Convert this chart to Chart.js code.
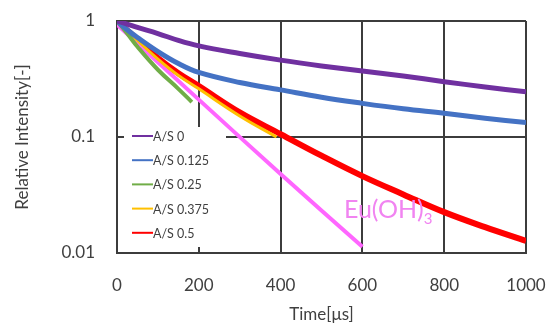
<!DOCTYPE html>
<html>
<head>
<meta charset="utf-8">
<script src="https://cdn.jsdelivr.net/npm/chart.js@4"></script>
<style>
  html, body { margin: 0; padding: 0; background: #fff; }
  #wrap { width: 558px; height: 329px; }
</style>
</head>
<body>
<div id="wrap"><canvas id="c" width="558" height="329"></canvas></div>
<script>
// time axis [us]
const tLong = [0, 25, 50, 100, 150, 200, 300, 400, 500, 600, 700, 800, 900, 1000]
const asZero = [1, 0.94, 0.88, 0.78, 0.68, 0.61, 0.525, 0.46, 0.41, 0.37, 0.335, 0.30, 0.27, 0.245]
const asOneEighth = [1, 0.84, 0.72, 0.545, 0.43, 0.36, 0.295, 0.255, 0.22, 0.195, 0.175, 0.16, 0.145, 0.133]
const tGreen = [0, 25, 50, 100, 150, 183]
const asQuarter = [1, 0.78, 0.6, 0.38, 0.26, 0.2]
const tYellow = [0, 25, 50, 100, 150, 200, 300, 390]
const asThreeEighths = [1, 0.82, 0.68, 0.47, 0.34, 0.26, 0.152, 0.1]
const asHalf = [1, 0.83, 0.69, 0.48, 0.355, 0.275, 0.163, 0.106, 0.069, 0.046, 0.032, 0.0225, 0.0167, 0.0127]
const tPink = [0, 200, 400, 600]
const euOH3 = [0.93, 0.21, 0.048, 0.0113]

const xTicks = [0, 200, 400, 600, 800, 1000]
const yTicks = [0.01, 0.1, 1]

const labelColor = '#404040'
const gridColor = '#3c3c3c'
const fontFamily = 'Lato, "Open Sans", sans-serif'

function pts(xs, ys) {
  return xs.map((x, i) => ({ x: x, y: ys[i] }))
}

function line(label, xs, ys, color, width, legend) {
  return {
    label: label,
    data: pts(xs, ys),
    borderColor: color,
    backgroundColor: color,
    borderWidth: width,
    pointRadius: 0,
    tension: 0.4,
    inLegend: legend,
  }
}

// white legend box inside the plot area, drawn over the grid
const boxLegend = {
  id: 'boxLegend',
  beforeDatasetsDraw(chart) {
    const ctx = chart.ctx
    ctx.save()
    ctx.fillStyle = '#fff'
    ctx.fillRect(124, 127, 102, 120)
    ctx.font = '12.5px ' + fontFamily
    ctx.textBaseline = 'middle'
    let y = 136
    chart.data.datasets.forEach((ds) => {
      if (!ds.inLegend) return
      ctx.strokeStyle = ds.borderColor
      ctx.lineWidth = 2
      ctx.beginPath()
      ctx.moveTo(132, y)
      ctx.lineTo(153, y)
      ctx.stroke()
      ctx.fillStyle = labelColor
      ctx.fillText(ds.label, 153, y + 1)
      y += 24.2
    })
    ctx.restore()
  },
  afterDatasetsDraw(chart) {
    const ctx = chart.ctx
    const xs = chart.scales.x
    const ys = chart.scales.y
    const px = xs.getPixelForValue(555)
    const py = ys.getPixelForValue(0.0235)
    ctx.save()
    ctx.fillStyle = '#f184f1'
    ctx.font = '25px ' + fontFamily
    ctx.textBaseline = 'middle'
    ctx.fillText('Eu(OH)', px, py)
    const w = ctx.measureText('Eu(OH)').width
    ctx.font = '15px ' + fontFamily
    ctx.fillText('3', px + w, py + 9)
    ctx.restore()
  },
}

new Chart(document.getElementById('c'), {
  type: 'line',
  data: {
    datasets: [
      line('A/S 0', tLong, asZero, '#7030a0', 5, true),
      line('A/S 0.125', tLong, asOneEighth, '#4472c4', 5, true),
      line('A/S 0.25', tGreen, asQuarter, '#70ad47', 4, true),
      line('A/S 0.375', tYellow, asThreeEighths, '#ffc000', 3, true),
      line('Eu(OH)3', tPink, euOH3, '#ff66ff', 4, false),
      line('A/S 0.5', tLong, asHalf, '#ff0000', 6, true),
    ],
  },
  options: {
    responsive: false,
    animation: false,
    layout: { padding: { left: 0, top: 21, right: 32, bottom: 0 } },
    plugins: { legend: { display: false }, tooltip: { enabled: false } },
    scales: {
      x: {
        type: 'linear',
        min: 0,
        max: 1000,
        afterBuildTicks: (s) => { s.ticks = xTicks.map((v) => ({ value: v })) },
        afterFit: (s) => {
          s.height = 76
          s.paddingLeft = 0
          s.paddingRight = 0
        },
        grid: { color: gridColor, lineWidth: 2, drawTicks: false },
        border: { color: gridColor, width: 2 },
        ticks: {
          color: labelColor,
          padding: 22,
          font: { size: 17, family: fontFamily },
          callback: (v) => String(v),
        },
        title: { display: true, text: 'Time[μs]', color: labelColor, padding: { top: 0 }, font: { size: 17, family: fontFamily } },
      },
      y: {
        type: 'logarithmic',
        min: 0.01,
        max: 1,
        afterBuildTicks: (s) => { s.ticks = yTicks.map((v) => ({ value: v })) },
        afterFit: (s) => {
          s.width = 117
          s.paddingTop = 0
          s.paddingBottom = 0
        },
        grid: { color: gridColor, lineWidth: 2, drawTicks: false },
        border: { color: gridColor, width: 2 },
        ticks: {
          color: labelColor,
          padding: 22,
          font: { size: 17, family: fontFamily },
          callback: (v) => String(v),
        },
        title: { display: true, text: 'Relative Intensity[-]', color: labelColor, padding: { top: 12 }, font: { size: 17, family: fontFamily } },
      },
    },
  },
  plugins: [boxLegend],
})
</script>
</body>
</html>
